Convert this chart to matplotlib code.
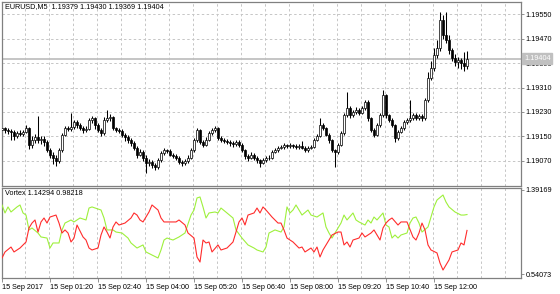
import matplotlib
matplotlib.use("Agg")
import matplotlib.pyplot as plt
import matplotlib.transforms as mtransforms

plt.rcParams['font.family'] = ['Liberation Sans', 'DejaVu Sans']

# ---------------- data ----------------
symbol = "EURUSD,M5"
time_labels = ["15 Sep 2017", "15 Sep 01:20", "15 Sep 02:40", "15 Sep 04:00",
               "15 Sep 05:20", "15 Sep 06:40", "15 Sep 08:00", "15 Sep 09:20",
               "15 Sep 10:40", "15 Sep 12:00"]
label_bars = [0, 16, 32, 48, 64, 80, 96, 112, 128, 144]

opens = [1.19170, 1.19178, 1.19171, 1.19168, 1.19165, 1.19152, 1.19161, 1.19158, 1.19165, 1.19178,
         1.19122, 1.19139, 1.19148, 1.19139, 1.19142, 1.19132, 1.19106, 1.19090, 1.19080, 1.19070,
         1.19106, 1.19155, 1.19178, 1.19175, 1.19181, 1.19197, 1.19188, 1.19178, 1.19171, 1.19175,
         1.19204, 1.19210, 1.19188, 1.19171, 1.19161, 1.19204, 1.19210, 1.19214, 1.19178, 1.19171,
         1.19168, 1.19155, 1.19148, 1.19139, 1.19129, 1.19113, 1.19090, 1.19099, 1.19080, 1.19064,
         1.19067, 1.19057, 1.19050, 1.19073, 1.19096, 1.19106, 1.19103, 1.19090, 1.19086, 1.19080,
         1.19067, 1.19064, 1.19070, 1.19080, 1.19106, 1.19139, 1.19171, 1.19132, 1.19122, 1.19139,
         1.19161, 1.19171, 1.19178, 1.19145, 1.19139, 1.19135, 1.19132, 1.19129, 1.19126, 1.19132,
         1.19122, 1.19106, 1.19086, 1.19080, 1.19090, 1.19080, 1.19073, 1.19064, 1.19073, 1.19080,
         1.19080, 1.19099, 1.19106, 1.19113, 1.19116, 1.19122, 1.19119, 1.19122, 1.19119, 1.19116,
         1.19119, 1.19113, 1.19106, 1.19113, 1.19116, 1.19139, 1.19152, 1.19188, 1.19178, 1.19155,
         1.19139, 1.19106, 1.19099, 1.19122, 1.19161, 1.19220, 1.19243, 1.19220, 1.19230, 1.19237,
         1.19227, 1.19243, 1.19263, 1.19210, 1.19171, 1.19155, 1.19188, 1.19220, 1.19286, 1.19220,
         1.19204, 1.19188, 1.19145, 1.19165, 1.19178, 1.19197, 1.19204, 1.19210, 1.19220, 1.19210,
         1.19217, 1.19210, 1.19269, 1.19341, 1.19374, 1.19416, 1.19439, 1.19530, 1.19481, 1.19465,
         1.19432, 1.19406, 1.19393, 1.19400, 1.19390, 1.19379]
highs = [1.19185, 1.19182, 1.19178, 1.19175, 1.19170, 1.19168, 1.19170, 1.19172, 1.19186, 1.19182,
         1.19150, 1.19158, 1.19217, 1.19150, 1.19150, 1.19138, 1.19112, 1.19098, 1.19088, 1.19112,
         1.19160, 1.19185, 1.19185, 1.19227, 1.19205, 1.19204, 1.19195, 1.19185, 1.19185, 1.19212,
         1.19218, 1.19215, 1.19195, 1.19178, 1.19215, 1.19237, 1.19222, 1.19218, 1.19182, 1.19178,
         1.19175, 1.19162, 1.19155, 1.19145, 1.19135, 1.19118, 1.19110, 1.19105, 1.19088, 1.19075,
         1.19072, 1.19062, 1.19080, 1.19102, 1.19112, 1.19110, 1.19108, 1.19095, 1.19092, 1.19085,
         1.19072, 1.19078, 1.19088, 1.19112, 1.19145, 1.19178, 1.19175, 1.19138, 1.19148, 1.19168,
         1.19178, 1.19185, 1.19182, 1.19150, 1.19145, 1.19142, 1.19138, 1.19135, 1.19140, 1.19138,
         1.19128, 1.19110, 1.19092, 1.19098, 1.19095, 1.19085, 1.19078, 1.19080, 1.19086, 1.19088,
         1.19105, 1.19112, 1.19120, 1.19122, 1.19128, 1.19126, 1.19128, 1.19126, 1.19124, 1.19125,
         1.19135, 1.19118, 1.19120, 1.19122, 1.19145, 1.19158, 1.19210, 1.19195, 1.19182, 1.19160,
         1.19142, 1.19110, 1.19128, 1.19168, 1.19228, 1.19295, 1.19250, 1.19238, 1.19245, 1.19242,
         1.19250, 1.19270, 1.19268, 1.19215, 1.19178, 1.19195, 1.19228, 1.19302, 1.19290, 1.19225,
         1.19210, 1.19192, 1.19172, 1.19185, 1.19205, 1.19210, 1.19269, 1.19228, 1.19226, 1.19224,
         1.19222, 1.19275, 1.19360, 1.19395, 1.19440, 1.19465, 1.19557, 1.19547, 1.19557, 1.19480,
         1.19440, 1.19420, 1.19410, 1.19405, 1.19425, 1.19430]
lows = [1.19112, 1.19160, 1.19158, 1.19140, 1.19140, 1.19145, 1.19150, 1.19152, 1.19160, 1.19110,
        1.19112, 1.19130, 1.19128, 1.19125, 1.19120, 1.19098, 1.19080, 1.19060, 1.19055, 1.19064,
        1.19100, 1.19150, 1.19168, 1.19168, 1.19175, 1.19178, 1.19170, 1.19162, 1.19165, 1.19170,
        1.19195, 1.19175, 1.19165, 1.19150, 1.19155, 1.19198, 1.19200, 1.19170, 1.19165, 1.19160,
        1.19148, 1.19135, 1.19130, 1.19120, 1.19105, 1.19080, 1.19085, 1.19070, 1.19031, 1.19055,
        1.19048, 1.19040, 1.19045, 1.19068, 1.19090, 1.19095, 1.19085, 1.19080, 1.19072, 1.19060,
        1.19055, 1.19058, 1.19065, 1.19075, 1.19100, 1.19132, 1.19125, 1.19115, 1.19118, 1.19135,
        1.19155, 1.19165, 1.19140, 1.19132, 1.19128, 1.19125, 1.19120, 1.19115, 1.19120, 1.19115,
        1.19098, 1.19078, 1.19070, 1.19075, 1.19072, 1.19065, 1.19050, 1.19060, 1.19068, 1.19072,
        1.19075, 1.19095, 1.19100, 1.19108, 1.19110, 1.19112, 1.19114, 1.19112, 1.19110, 1.19110,
        1.19108, 1.19100, 1.19100, 1.19108, 1.19112, 1.19135, 1.19148, 1.19170, 1.19150, 1.19130,
        1.19098, 1.19050, 1.19092, 1.19118, 1.19155, 1.19215, 1.19212, 1.19215, 1.19225, 1.19220,
        1.19222, 1.19238, 1.19200, 1.19165, 1.19148, 1.19150, 1.19182, 1.19215, 1.19212, 1.19198,
        1.19180, 1.19132, 1.19140, 1.19160, 1.19172, 1.19192, 1.19198, 1.19205, 1.19205, 1.19205,
        1.19200, 1.19205, 1.19262, 1.19335, 1.19365, 1.19405, 1.19430, 1.19470, 1.19455, 1.19420,
        1.19395, 1.19380, 1.19375, 1.19370, 1.19365, 1.19369]
closes = [1.19178, 1.19171, 1.19168, 1.19165, 1.19152, 1.19161, 1.19158, 1.19165, 1.19178, 1.19122,
          1.19139, 1.19148, 1.19139, 1.19142, 1.19132, 1.19106, 1.19090, 1.19080, 1.19070, 1.19106,
          1.19155, 1.19178, 1.19175, 1.19181, 1.19197, 1.19188, 1.19178, 1.19171, 1.19175, 1.19204,
          1.19210, 1.19188, 1.19171, 1.19161, 1.19204, 1.19210, 1.19214, 1.19178, 1.19171, 1.19168,
          1.19155, 1.19148, 1.19139, 1.19129, 1.19113, 1.19090, 1.19099, 1.19080, 1.19064, 1.19067,
          1.19057, 1.19050, 1.19073, 1.19096, 1.19106, 1.19103, 1.19090, 1.19086, 1.19080, 1.19067,
          1.19064, 1.19070, 1.19080, 1.19106, 1.19139, 1.19171, 1.19132, 1.19122, 1.19139, 1.19161,
          1.19171, 1.19178, 1.19145, 1.19139, 1.19135, 1.19132, 1.19129, 1.19126, 1.19132, 1.19122,
          1.19106, 1.19086, 1.19080, 1.19090, 1.19080, 1.19073, 1.19064, 1.19073, 1.19080, 1.19080,
          1.19099, 1.19106, 1.19113, 1.19116, 1.19122, 1.19119, 1.19122, 1.19119, 1.19116, 1.19119,
          1.19113, 1.19106, 1.19113, 1.19116, 1.19139, 1.19152, 1.19188, 1.19178, 1.19155, 1.19139,
          1.19106, 1.19099, 1.19122, 1.19161, 1.19220, 1.19243, 1.19220, 1.19230, 1.19237, 1.19227,
          1.19243, 1.19263, 1.19210, 1.19171, 1.19155, 1.19188, 1.19220, 1.19286, 1.19220, 1.19204,
          1.19188, 1.19145, 1.19165, 1.19178, 1.19197, 1.19204, 1.19210, 1.19220, 1.19210, 1.19217,
          1.19210, 1.19269, 1.19341, 1.19374, 1.19416, 1.19439, 1.19530, 1.19481, 1.19465, 1.19432,
          1.19406, 1.19393, 1.19400, 1.19390, 1.19379, 1.19404]
bid_price = 1.19404

price_ticks = [1.19070, 1.19150, 1.19230, 1.19310, 1.19390, 1.19470, 1.19550]

vi_plus_bars = [0, 1, 2, 3, 5, 6, 7, 8, 9, 10, 12, 13, 15, 16, 17, 19, 20, 21, 23, 24, 26, 28, 29, 30,
                33, 34, 35, 37, 38, 40, 42, 43, 45, 47, 48, 50, 52, 53, 54, 55, 57, 59, 61, 63, 64,
                65, 66, 67, 68, 69, 71, 72, 73, 75, 77, 78, 80, 82, 84, 85, 87, 88, 89, 91, 93, 94,
                95, 96, 97, 98, 100, 102, 103, 105, 107, 108, 109, 110, 111, 113, 114, 115, 117, 118,
                119, 121, 122, 123, 124, 125, 127, 128, 129, 130, 131, 132, 133, 135, 136, 137, 138,
                139, 140, 142, 143, 144, 145, 147, 148, 149, 151, 153, 154, 155]
vi_plus = [1.240, 1.159, 1.220, 1.169, 1.220, 1.240, 1.159, 1.138, 0.987, 1.007, 0.956, 0.916, 0.905,
           0.804, 0.855, 0.855, 0.987, 1.057, 1.088, 1.068, 1.108, 1.088, 1.209, 1.220, 1.189, 1.108,
           0.987, 0.987, 0.966, 0.956, 0.905, 0.855, 0.804, 0.835, 0.764, 0.733, 0.703, 0.784, 0.885,
           0.905, 0.885, 0.916, 0.956, 1.138, 1.189, 1.311, 1.321, 1.220, 1.108, 1.159, 1.169, 1.159,
           1.209, 1.159, 1.108, 0.987, 0.905, 0.835, 0.804, 0.784, 0.764, 0.814, 0.956, 0.987, 0.966,
           1.017, 1.220, 1.159, 1.189, 1.240, 1.138, 1.189, 1.138, 1.118, 1.159, 1.017, 0.956, 0.905,
           0.956, 1.057, 1.138, 1.088, 1.159, 1.088, 1.068, 1.037, 1.088, 1.057, 1.118, 1.088, 1.159,
           1.037, 1.017, 0.905, 0.936, 0.905, 0.936, 0.956, 1.057, 1.108, 1.118, 1.057, 0.966, 1.017,
           1.118, 1.220, 1.290, 1.341, 1.270, 1.220, 1.169, 1.138, 1.138, 1.14294]

vi_minus_bars = [0, 1, 3, 4, 6, 8, 9, 10, 11, 12, 13, 14, 15, 16, 18, 19, 20, 21, 22, 23, 24, 25, 27,
                 28, 29, 30, 32, 33, 34, 35, 36, 37, 38, 39, 41, 43, 44, 45, 46, 47, 49, 50, 52, 53,
                 54, 56, 58, 59, 61, 62, 64, 65, 66, 67, 68, 69, 70, 72, 73, 75, 77, 78, 79, 80, 81,
                 82, 84, 85, 86, 87, 88, 90, 92, 93, 94, 95, 97, 99, 100, 101, 103, 104, 105, 106,
                 107, 109, 110, 112, 113, 114, 115, 116, 117, 119, 120, 121, 123, 124, 125, 126, 127,
                 128, 129, 130, 132, 133, 134, 135, 137, 138, 139, 140, 141, 142, 143, 145, 146, 147,
                 148, 149, 150, 152, 153, 154, 155]
vi_minus = [0.703, 0.764, 0.814, 0.764, 0.804, 0.865, 1.007, 1.057, 1.088, 0.966, 1.068, 1.108, 1.057,
            1.118, 1.138, 1.057, 0.956, 0.987, 0.956, 0.865, 0.905, 1.037, 0.916, 0.885, 0.804, 0.784,
            0.804, 0.936, 1.017, 0.966, 0.905, 1.017, 1.068, 1.037, 1.057, 1.108, 1.159, 1.138, 1.088,
            1.068, 1.169, 1.240, 1.189, 1.108, 1.068, 1.068, 1.068, 1.088, 1.037, 0.956, 0.905, 0.713,
            0.662, 0.885, 0.855, 0.865, 0.764, 0.835, 0.784, 0.804, 0.865, 0.966, 1.068, 1.108, 1.037,
            1.138, 1.159, 1.209, 1.159, 1.220, 1.189, 1.118, 1.057, 1.057, 0.987, 0.905, 0.865, 0.804,
            0.814, 0.764, 0.804, 0.764, 0.814, 0.713, 0.784, 0.885, 0.936, 0.966, 0.966, 0.835, 0.865,
            0.814, 0.885, 0.905, 0.956, 0.916, 0.956, 0.987, 0.936, 0.885, 1.007, 1.057, 1.088, 1.108,
            1.037, 1.068, 1.068, 1.068, 0.916, 0.885, 0.956, 1.057, 0.987, 0.835, 0.784, 0.754, 0.652,
            0.581, 0.632, 0.683, 0.764, 0.784, 0.855, 0.835, 0.98218]
vortex_scale = [0.54073, 1.39169]

# ---------------- figure ----------------
W, H = 560, 294
fig = plt.figure(figsize=(W / 100, H / 100), dpi=100)
fig.patch.set_facecolor('white')

def frac(x0, y0, x1, y1):
    return [x0 / W, 1 - y1 / H, (x1 - x0) / W, (y1 - y0) / H]

ax = fig.add_axes(frac(1.5, 1.5, 521, 186))
ax2 = fig.add_axes(frac(1.5, 188, 521, 278), sharex=ax)

grid_color = '#c6c6c6'
spine_color = '#808080'
fs = 5.2

n = len(closes)
idx = list(range(n))

# vertical grid
for a in (ax, ax2):
    for k in range(1, 22):
        a.axvline(8 * k - 0.25, color=grid_color, lw=0.7, dashes=(2.5, 2.5), zorder=0)
# horizontal grid main
for p in price_ticks:
    ax.axhline(p, color=grid_color, lw=0.7, dashes=(2.5, 2.5), zorder=0)

# bid line
ax.axhline(bid_price, color='#c0c0c0', lw=1.3, zorder=1)

# candles
ax.vlines(idx, lows, highs, color='black', lw=0.75, zorder=2)
for i in idx:
    o, c = opens[i], closes[i]
    lo, hi = min(o, c), max(o, c)
    h = max(hi - lo, 0.000012)
    if c >= o:
        ax.bar(i, h, bottom=lo, width=0.72, facecolor='white', edgecolor='black',
               linewidth=0.5, zorder=3)
    else:
        ax.bar(i, h, bottom=lo, width=0.72, facecolor='black', edgecolor='black',
               linewidth=0.5, zorder=3)

ax.set_xlim(-0.17, 173)
ax.set_ylim(1.189883, 1.195909)

# vortex
ax2.plot(vi_plus_bars, vi_plus, color='#9ef03c', lw=0.8, zorder=3)
ax2.plot(vi_minus_bars, vi_minus, color='#ff2c2c', lw=0.8, zorder=3)
ax2.set_ylim(0.50021, 1.41195)

for a in (ax, ax2):
    for s in a.spines.values():
        s.set_color(spine_color)
        s.set_linewidth(0.9)
    a.yaxis.tick_right()
    a.tick_params(axis='y', which='both', length=2.5, width=0.6, pad=1,
                  labelsize=fs, colors='black')
    a.tick_params(axis='y', color=spine_color)

ax.set_yticks(price_ticks)
ax.set_yticklabels([f"{p:.5f}" for p in price_ticks])
ax.tick_params(axis='x', bottom=False, labelbottom=False)

ax2.set_yticks(vortex_scale)
ax2.set_yticklabels([f"{v:.5f}" for v in vortex_scale])
ax2.set_xticks(label_bars)
ax2.set_xticklabels(time_labels, ha='left')
ax2.tick_params(axis='x', length=3, width=0.6, pad=1.5, labelsize=fs,
                color=spine_color)

# bid label box on price scale
trans = mtransforms.blended_transform_factory(ax.transAxes, ax.transData)
ax.text(1.0 + 3 / 519.5, bid_price, f"{bid_price:.5f}", transform=trans,
        fontsize=fs, color='white', va='center', ha='left', zorder=10,
        bbox=dict(boxstyle='square,pad=0.25', facecolor='#c0c0c0', edgecolor='#c0c0c0'),
        clip_on=False)

# header texts
o_last, h_last, l_last, c_last = opens[-1], highs[-1], lows[-1], closes[-1]
fig.text(5 / W, 1 - 7 / H,
         f"{symbol}  {o_last:.5f} {h_last:.5f} {l_last:.5f} {c_last:.5f}",
         fontsize=fs, va='center', ha='left')
fig.text(5 / W, 1 - 193.5 / H,
         f"Vortex {vi_plus[-1]:.5f} {vi_minus[-1]:.5f}",
         fontsize=fs, va='center', ha='left')

fig.savefig("out.png", dpi=100)
